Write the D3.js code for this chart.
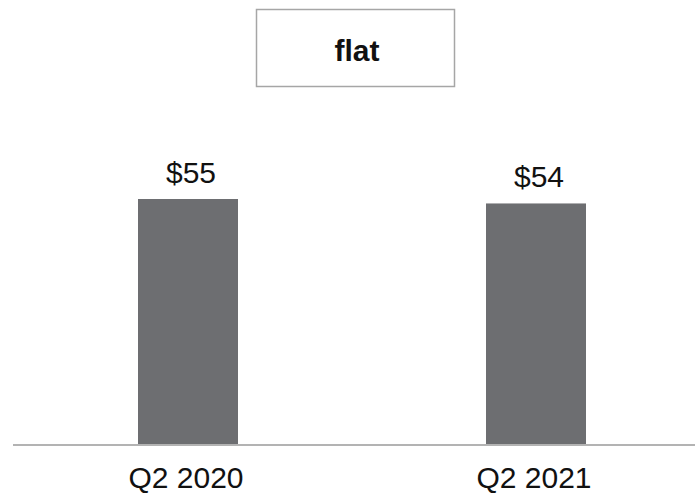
<!DOCTYPE html>
<html>
<head>
<meta charset="utf-8">
<script src="https://cdn.jsdelivr.net/npm/d3@7"></script>
<style>
  html, body { margin: 0; padding: 0; background: #fff; }
  svg { display: block; font-family: Arial, "Liberation Sans", sans-serif; }
</style>
</head>
<body>
<svg id="chart" width="695" height="494"></svg>
<script>
// Quarterly values
const categories = ["Q2 2020", "Q2 2021"];
const values = [55, 54];
const valueLabels = ["$55", "$54"];
const badgeText = "flat";

const svg = d3.select("#chart");
const W = 695;

const x = d3.scaleBand()
  .domain(categories)
  .range([138, 586])
  .paddingInner(248 / 348)
  .paddingOuter(0);

const y = d3.scaleLinear()
  .domain([0, 55])
  .range([444, 199]);

// bars
svg.selectAll("rect.bar")
  .data(categories)
  .join("rect")
  .attr("class", "bar")
  .attr("x", d => x(d))
  .attr("width", x.bandwidth())
  .attr("y", (d, i) => y(values[i]))
  .attr("height", (d, i) => y(0) - y(values[i]))
  .attr("fill", "#6d6e71");

// baseline
svg.append("line")
  .attr("x1", 13).attr("x2", W)
  .attr("y1", 445).attr("y2", 445)
  .attr("stroke", "#b3b3b3")
  .attr("stroke-width", 2);

// value labels
svg.selectAll("text.val")
  .data(categories)
  .join("text")
  .attr("class", "val")
  .attr("x", d => x(d) + x.bandwidth() / 2 + 3)
  .attr("y", (d, i) => y(values[i]) - 16)
  .attr("text-anchor", "middle")
  .attr("font-size", 30)
  .attr("fill", "#111")
  .text((d, i) => valueLabels[i]);

// category labels
svg.selectAll("text.cat")
  .data(categories)
  .join("text")
  .attr("class", "cat")
  .attr("x", d => x(d) + x.bandwidth() / 2 - 2)
  .attr("y", 488)
  .attr("text-anchor", "middle")
  .attr("font-size", 30)
  .attr("fill", "#111")
  .text(d => d);

// change badge
svg.append("rect")
  .attr("x", 256.5).attr("y", 9.5)
  .attr("width", 198).attr("height", 77)
  .attr("fill", "#fff")
  .attr("stroke", "#a6a6a6")
  .attr("stroke-width", 1.5);

svg.append("text")
  .attr("x", 357)
  .attr("y", 61)
  .attr("text-anchor", "middle")
  .attr("font-size", 30)
  .attr("font-weight", "bold")
  .attr("fill", "#111")
  .text(badgeText);
</script>
</body>
</html>
